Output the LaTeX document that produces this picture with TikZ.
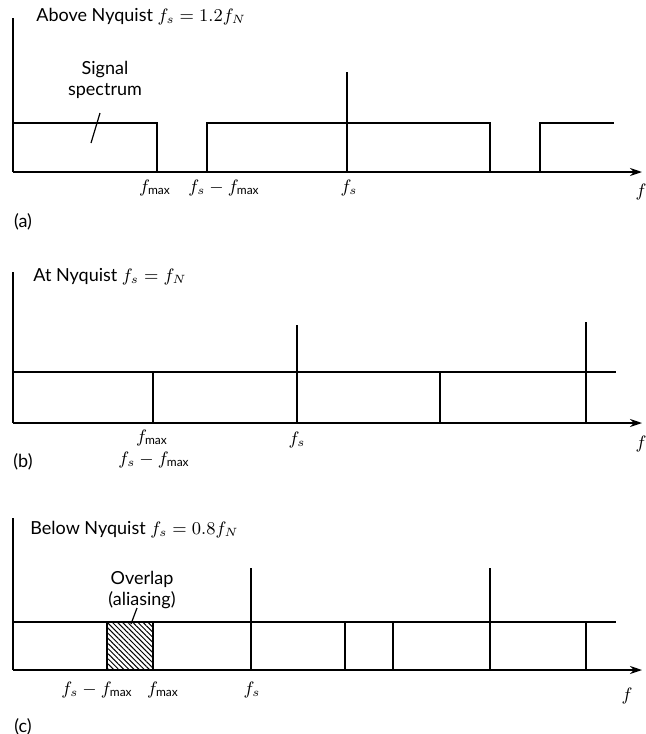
\documentclass[tikz,border=0pt]{standalone}
\usepackage{fontspec}
\setmainfont{Lato}
\usetikzlibrary{arrows.meta,patterns.meta}
\begin{document}
\begin{tikzpicture}[x=0.5pt,y=-0.5pt,
  ax/.style={line width=0.8pt},
  bx/.style={line width=0.9pt},
  topl/.style={line width=1.2pt},
  lead/.style={line width=0.6pt},
  arr/.style={line width=0.9pt,-{Stealth[length=6pt,width=4pt]}},
  lbl/.style={font=\fontsize{9}{10.5}\selectfont,inner sep=0pt},
  sub/.style={font=\fontsize{9}{10.5}\selectfont,inner sep=0pt},
  hatch/.style={pattern={Lines[angle=-45,distance=1.8pt,line width=0.5pt]}}
]
\useasboundingbox (0,0) rectangle (645,734);

% ---------------- panel (a) ----------------
\coordinate (aT) at (13,18);
\coordinate (aO) at (13,172);
\coordinate (aE) at (642,172);
\draw[ax] (aT) -- (aO);
\draw[arr] (aO) -- (aE);
\draw[bx] (13,123) -- (157,123) -- (157,172);
\draw[bx] (207,172) -- (207,123) -- (490,123) -- (490,172);
\draw[bx] (540,172) -- (540,123) -- (614,123);
\draw[bx] (347,72) -- (347,172);
\node[lbl,anchor=west] (ta) at (36,17) {Above Nyquist $f_s = 1.2f_N$};
\node[lbl,align=center] (sig) at (105,80) {Signal\\spectrum};
\coordinate (sigA) at (100,113);
\coordinate (sigB) at (91,143);
\draw[lead] (sigA) -- (sigB);
\node[sub] (a1) at (155,188) {$f_{\max}$};
\node[sub] (a2) at (224,188) {$f_s - f_{\max}$};
\node[sub] (a3) at (349,188) {$f_s$};
\node[sub] (a4) at (641,192) {$f$};
\node[lbl] (la) at (23,222) {(a)};

% ---------------- panel (b) ----------------
\coordinate (bT) at (13,272);
\coordinate (bO) at (13,423);
\coordinate (bE) at (642,423);
\draw[ax] (bT) -- (bO);
\draw[arr] (bO) -- (bE);
\draw[topl] (13,372) -- (616,372);
\draw[bx] (153,372) -- (153,423);
\draw[bx] (297,325) -- (297,423);
\draw[bx] (440,372) -- (440,423);
\draw[bx] (586,322) -- (586,423);
\node[lbl,anchor=west] (tb) at (33,277) {At Nyquist $f_s = f_N$};
\node[sub] (b1) at (152,438) {$f_{\max}$};
\node[sub] (b2) at (154,460) {$f_s - f_{\max}$};
\node[sub] (b3) at (297,440) {$f_s$};
\node[sub] (b4) at (641,444) {$f$};
\node[lbl] (lb) at (23,462) {(b)};

% ---------------- panel (c) ----------------
\coordinate (cT) at (13,518);
\coordinate (cO) at (13,670);
\coordinate (cE) at (642,670);
\fill[hatch] (107,622) rectangle (153,670);
\draw[ax] (cT) -- (cO);
\draw[arr] (cO) -- (cE);
\draw[topl] (13,622) -- (616,622);
\draw[bx] (107,622) -- (107,670);
\draw[bx] (153,622) -- (153,670);
\draw[bx] (251,568) -- (251,670);
\draw[bx] (345,622) -- (345,670);
\draw[bx] (393,622) -- (393,670);
\draw[bx] (490,568) -- (490,670);
\draw[bx] (586,622) -- (586,670);
\node[lbl,anchor=west] (tc) at (30,530) {Below Nyquist $f_s = 0.8f_N$};
\node[lbl,align=center] (ov) at (142,590) {Overlap\\(aliasing)};
\coordinate (ovA) at (137,608);
\coordinate (ovB) at (131,624);
\draw[lead] (ovA) -- (ovB);
\node[sub] (c1) at (97,690) {$f_s - f_{\max}$};
\node[sub] (c2) at (163,690) {$f_{\max}$};
\node[sub] (c3) at (252,690) {$f_s$};
\node[sub] (c4) at (627,696) {$f$};
\node[lbl] (lc) at (23,727) {(c)};
\end{tikzpicture}
\end{document}
